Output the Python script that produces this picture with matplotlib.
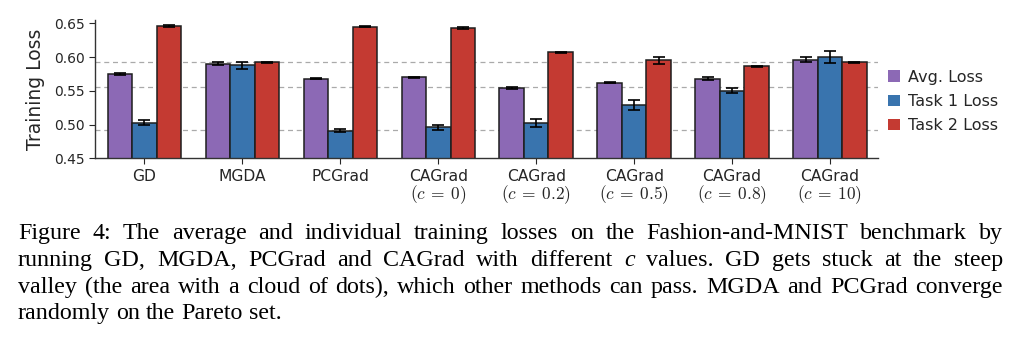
"""
Figure 4 recreation: average and per-task training losses on
Fashion-and-MNIST for GD, MGDA, PCGrad and CAGrad (several c values),
with the paper caption underneath.

Output:
  out.png
"""
import matplotlib.pyplot as plt
import numpy as np
from matplotlib.patches import Patch


METHODS = ["GD", "MGDA", "PCGrad", "CAGrad", "CAGrad", "CAGrad",
           "CAGrad", "CAGrad"]
# second label line under the CAGrad groups (None = no second line)
C_VALUES = [None, None, None, "0", "0.2", "0.5", "0.8", "10"]

AVG_LOSS = [0.575, 0.590, 0.568, 0.570, 0.554, 0.562, 0.568, 0.596]
AVG_ERR = [0.002, 0.002, 0.001, 0.001, 0.002, 0.001, 0.002, 0.004]
TASK1_LOSS = [0.503, 0.588, 0.491, 0.496, 0.502, 0.529, 0.550, 0.600]
TASK1_ERR = [0.004, 0.005, 0.002, 0.004, 0.006, 0.007, 0.004, 0.009]
TASK2_LOSS = [0.646, 0.592, 0.645, 0.643, 0.607, 0.595, 0.586, 0.592]
TASK2_ERR = [0.002, 0.001, 0.001, 0.001, 0.0005, 0.005, 0.0005, 0.001]

# dashed reference levels drawn behind the bars
REF_LEVELS = [0.592, 0.555, 0.492]

YTICKS = [0.45, 0.50, 0.55, 0.60, 0.65]

# (label, values, errors, colour)
SERIES = [
    ("Avg. Loss", AVG_LOSS, AVG_ERR, "#8c69b5"),
    ("Task 1 Loss", TASK1_LOSS, TASK1_ERR, "#3974ae"),
    ("Task 2 Loss", TASK2_LOSS, TASK2_ERR, "#c43a32"),
]

CAPTION_LINES = [
    "Figure 4: The average and individual training losses on the "
    "Fashion-and-MNIST benchmark by",
    "running GD, MGDA, PCGrad and CAGrad with different c values. "
    "GD gets stuck at the steep",
    "valley (the area with a cloud of dots), which other methods can pass. "
    "MGDA and PCGrad converge",
    "randomly on the Pareto set.",
]

W, H = 1024, 346
TEXT_COLOR = "#262626"

plt.rcParams["mathtext.fontset"] = "cm"
plt.rcParams["font.family"] = "DejaVu Sans"

fig = plt.figure(figsize=(W / 100, H / 100), dpi=100)
ax = fig.add_axes([95 / W, 1 - 158.3 / H, 783 / W, 138.4 / H])

x = np.arange(len(METHODS))
bw = 0.25
for i, (label, vals, errs, color) in enumerate(SERIES):
    ax.bar(x + (i - 1) * bw, vals, bw, yerr=errs, color=color,
           edgecolor="#1e1e1e", linewidth=1.1, zorder=2,
           error_kw=dict(ecolor="black", elinewidth=1.2, capsize=4,
                         capthick=1.2, zorder=3))

for lv in REF_LEVELS:
    ax.axhline(lv, color="#aaaaaa", ls=(0, (4, 3)), lw=0.9, zorder=1)

ax.set_xlim(-0.505, 7.49)
ax.set_ylim(0.45, 0.655)
ax.set_yticks(YTICKS)
ax.set_yticklabels([f"{t:.2f}" for t in YTICKS])
ax.set_xticks(x)
ax.set_xticklabels(METHODS, fontsize=11.2, color=TEXT_COLOR)
for xi, c in zip(x, C_VALUES):
    if c is None:
        continue
    ax.text(xi, -0.265, rf"$(c\:=\:{c})$", transform=ax.get_xaxis_transform(),
            ha="center", va="center", fontsize=12.5, color=TEXT_COLOR)
ax.tick_params(axis="y", labelsize=10, colors=TEXT_COLOR, length=4)
ax.tick_params(axis="x", length=4, colors=TEXT_COLOR, pad=4)
for side in ("top", "right"):
    ax.spines[side].set_visible(False)
for side in ("left", "bottom"):
    ax.spines[side].set_color("#333333")
    ax.spines[side].set_linewidth(1.0)
ax.set_ylabel("Training Loss", fontsize=13.5, color=TEXT_COLOR, labelpad=6)

handles = [Patch(facecolor=c, edgecolor="none", label=l)
           for l, _, _, c in SERIES]
fig.legend(handles=handles, loc="center left",
           bbox_to_anchor=(888 / W, 1 - 101.5 / H), frameon=False,
           fontsize=11.5, handlelength=0.75, handleheight=0.75,
           handletextpad=0.5, labelspacing=0.57, borderpad=0,
           borderaxespad=0, labelcolor=TEXT_COLOR)

# caption, justified word by word like the LaTeX original
renderer = fig.canvas.get_renderer()
left, right = 18, 1003
baselines = [239, 266, 293, 319]
for li, line in enumerate(CAPTION_LINES):
    words = line.split()
    texts = []
    for w in words:
        style = "italic" if w == "c" else "normal"
        texts.append(fig.text(0, 1 - baselines[li] / H, w, fontsize=17.3,
                              family="Liberation Serif", style=style,
                              va="baseline", ha="left", color="black"))
    widths = [t.get_window_extent(renderer).width for t in texts]
    if li < len(CAPTION_LINES) - 1:
        gap = (right - left - sum(widths)) / (len(words) - 1)
    else:
        gap = texts[0].get_fontsize() * 100 / 72 * 0.25
    pos = left
    for t, wd in zip(texts, widths):
        t.set_x(pos / W)
        pos += wd + gap

fig.savefig("out.png", dpi=100, facecolor="white")
